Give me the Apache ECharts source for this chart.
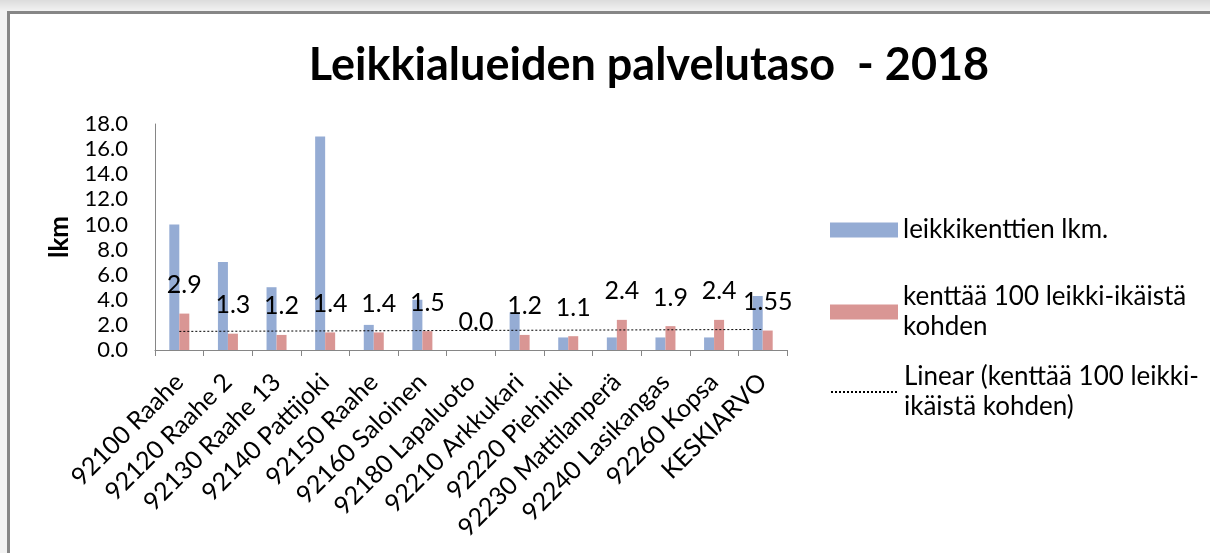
<!DOCTYPE html>
<html>
<head>
<meta charset="utf-8">
<script src="https://cdn.jsdelivr.net/npm/echarts@6/dist/echarts.min.js"></script>
<style>
  html, body { margin: 0; padding: 0; width: 1210px; height: 553px; overflow: hidden; }
  body { background: linear-gradient(#dcdcdc, #f2f2f2 11px); }
  #frame {
    position: absolute; left: 7px; top: 11px; width: 1200px; height: 539px;
    background: #fff; border-left: 3px solid #868686; border-top: 3px solid #868686;
  }
  #chart { position: absolute; left: 0; top: 0; width: 1210px; height: 553px; }
</style>
</head>
<body>
<div id="frame"></div>
<div id="chart"></div>
<script>
// chart data
const categories = [
  '92100 Raahe', '92120 Raahe 2', '92130 Raahe 13', '92140 Pattijoki',
  '92150 Raahe', '92160 Saloinen', '92180 Lapaluoto', '92210 Arkkukari',
  '92220 Piehinki', '92230 Mattilanperä', '92240 Lasikangas', '92260 Kopsa',
  'KESKIARVO'
]
const fieldCount = [10, 7, 5, 17, 2, 4, 0, 3, 1, 1, 1, 1, 4.3]
const per100 = [2.9, 1.3, 1.2, 1.4, 1.4, 1.5, 0.0, 1.2, 1.1, 2.4, 1.9, 2.4, 1.55]
const yTicks = { min: 0, max: 18, interval: 2 }

const nameBlue = 'leikkikenttien lkm.'
const nameRed = 'kenttää 100 leikki-ikäistä kohden'
const nameTrend = 'Linear (kenttää 100 leikki-ikäistä kohden)'

// linear trendline (least squares) of the red series, like Excel's
const n = per100.length
const xs = per100.map((_, i) => i + 1)
const mx = xs.reduce((a, b) => a + b, 0) / n
const my = per100.reduce((a, b) => a + b, 0) / n
let sxy = 0, sxx = 0
xs.forEach((x, i) => { sxy += (x - mx) * (per100[i] - my); sxx += (x - mx) * (x - mx) })
const slope = sxy / sxx
const trend = xs.map(x => +(my + slope * (x - mx)).toFixed(4))

const FONT = 'Lato'
const fmtLabel = v => (Math.abs(Math.round(v * 10) - v * 10) < 1e-9 ? v.toFixed(1) : String(v))

const chart = echarts.init(document.getElementById('chart'), null, { renderer: 'canvas' })

const legendBase = {
  orient: 'vertical',
  left: 830,
  padding: 0,
  itemWidth: 68,
  itemHeight: 15,
  itemGap: 0,
  selectedMode: false,
  textStyle: { fontFamily: FONT, fontSize: 26, color: '#000', lineHeight: 30 }
}

const option = {
  animation: false,
  backgroundColor: 'transparent',
  title: {
    text: 'Leikkialueiden palvelutaso  - 2018',
    left: 644,
    top: 38,
    textAlign: 'center',
    textStyle: { fontFamily: FONT, fontSize: 45, fontWeight: 'bold', color: '#000' }
  },
  legend: [
    Object.assign({}, legendBase, {
      top: 215,
      data: [{ name: nameBlue, icon: 'rect' }]
    }),
    Object.assign({}, legendBase, {
      top: 267,
      data: [{ name: nameRed, icon: 'rect' }],
      formatter: () => 'kenttää 100 leikki-ikäistä\nkohden',
      textStyle: Object.assign({}, legendBase.textStyle, { padding: [30, 0, 0, 0] })
    }),
    Object.assign({}, legendBase, {
      top: 347,
      data: [{ name: nameTrend }],
      itemStyle: { opacity: 0 },
      formatter: () => 'Linear (kenttää 100 leikki-\nikäistä kohden)',
      textStyle: Object.assign({}, legendBase.textStyle, { padding: [30, 0, 0, 0] })
    })
  ],
  grid: { left: 155, right: 423, top: 124, bottom: 203, containLabel: false },
  xAxis: {
    type: 'category',
    data: categories,
    axisLine: { lineStyle: { color: '#868686', width: 1 } },
    axisTick: { show: true, length: 6, lineStyle: { color: '#868686' } },
    axisLabel: {
      rotate: 45,
      interval: 0,
      margin: 28,
      fontFamily: FONT,
      fontSize: 25,
      color: '#000'
    }
  },
  yAxis: {
    type: 'value',
    min: yTicks.min,
    max: yTicks.max,
    interval: yTicks.interval,
    name: 'lkm',
    nameLocation: 'middle',
    nameGap: 82,
    nameTextStyle: { fontFamily: FONT, fontSize: 26, fontWeight: 'bold', color: '#000' },
    axisLine: { show: true, lineStyle: { color: '#868686', width: 1 } },
    axisTick: { show: false },
    splitLine: { show: false },
    axisLabel: {
      margin: 27,
      fontFamily: FONT,
      fontSize: 22,
      color: '#000',
      formatter: v => v.toFixed(1)
    }
  },
  series: [
    {
      name: nameBlue,
      type: 'bar',
      data: fieldCount,
      barWidth: 10,
      barGap: '0%',
      itemStyle: { color: '#95ACD4' }
    },
    {
      name: nameRed,
      type: 'bar',
      data: per100,
      barWidth: 10,
      barGap: '0%',
      itemStyle: { color: '#D99694' },
      label: {
        show: true,
        position: 'top',
        distance: 16,
        fontFamily: FONT,
        fontSize: 25,
        color: '#000',
        formatter: p => fmtLabel(p.value)
      }
    },
    {
      name: nameTrend,
      type: 'line',
      data: trend,
      symbol: 'none',
      z: 5,
      lineStyle: { color: '#000', width: 1, type: [2, 2] },
      itemStyle: { color: '#000' }
    }
  ]
}

chart.setOption(option)
</script>
</body>
</html>
